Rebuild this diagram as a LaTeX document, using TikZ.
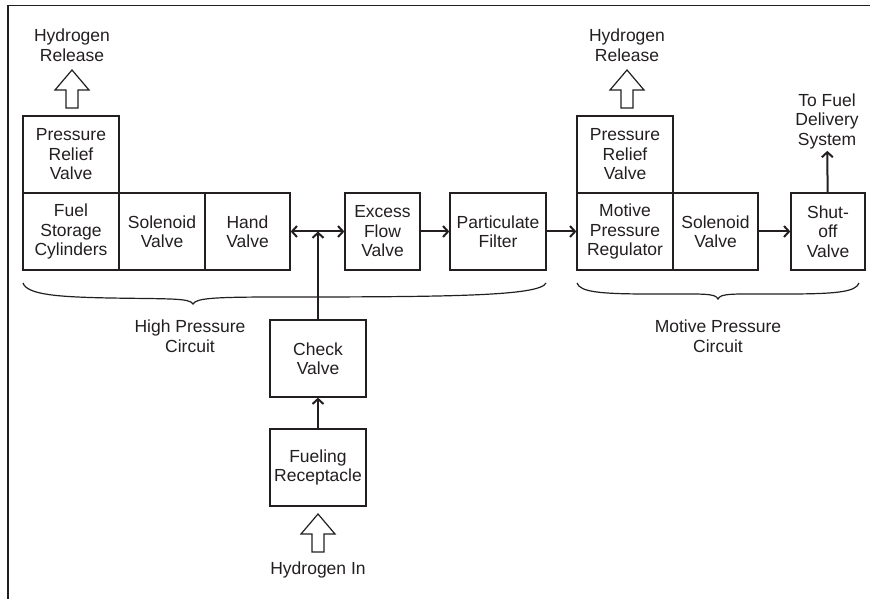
\documentclass[tikz,border=0pt]{standalone}
\usepackage{fontspec}
\setmainfont{Liberation Sans}
\usetikzlibrary{arrows.meta}
\definecolor{DiagramInk}{HTML}{231F20}

\begin{document}
\begin{tikzpicture}[x=1pt, y=-1pt,
    >={Straight Barb[length=5pt, width=11pt]},
    part/.style={draw=DiagramInk, line width=1.3pt, minimum height=77pt, inner sep=0pt, align=center, text=DiagramInk, font=\fontsize{17.5}{19.5}\selectfont},
    caption/.style={align=center, text=DiagramInk, inner sep=2pt, font=\fontsize{17.5}{19.5}\selectfont},
    flow/.style={draw=DiagramInk, line width=2pt},
    openarrow/.pic={\draw[DiagramInk, line width=1.2pt] (0,0) -- (17,20) -- (6,20) -- (6,38) -- (-6,38) -- (-6,20) -- (-17,20) -- cycle;}]

\useasboundingbox (0,0) rectangle (871,599);
% frame
\draw[DiagramInk, line width=1.5pt] (8,599) -- (8,5.5) -- (870,5.5);

% High pressure side
\node[part, minimum width=96pt] (reliefL) at (71,154.5) {Pressure\\Relief\\Valve};
\node[part, minimum width=96pt] (cylinders) at (71,231.5) {Fuel\\Storage\\Cylinders};
\node[part, minimum width=86pt] (solenoidL) at (162,231.5) {Solenoid\\Valve};
\node[part, minimum width=85pt] (hand) at (247.5,231.5) {Hand\\Valve};
\node[part, minimum width=75pt] (excess) at (382.5,231.5) {Excess\\Flow\\Valve};
\node[part, minimum width=96pt] (filter) at (498,231.5) {Particulate\\Filter};

% Motive pressure side
\node[part, minimum width=96pt] (reliefR) at (625,154.5) {Pressure\\Relief\\Valve};
\node[part, minimum width=96pt] (regulator) at (625,231.5) {Motive\\Pressure\\Regulator};
\node[part, minimum width=85pt] (solenoidR) at (715.5,231.5) {Solenoid\\Valve};
\node[part, minimum width=74pt] (shutoff) at (828,231.5) {Shut-\\off\\Valve};

% Fueling branch
\node[part, minimum width=96pt] (check) at (318,358.5) {Check\\Valve};
\node[part, minimum width=96pt] (receptacle) at (318,467.5) {Fueling\\Receptacle};

% Labels
\node[caption] (releaseL) at (72,45) {Hydrogen\\Release};
\node[caption] (releaseR) at (627,45) {Hydrogen\\Release};
\node[caption] (delivery) at (827,121) {To Fuel\\Delivery\\System};
\node[caption] (highcirc) at (190,336) {High Pressure\\Circuit};
\node[caption] (motivecirc) at (718,336) {Motive Pressure\\Circuit};
\node[caption] (inlet) at (318,570) {Hydrogen In};

% Vent and inlet arrows
\pic at (72,70) {openarrow};
\pic at (627,70) {openarrow};
\pic at (318,514) {openarrow};

% Flow arrows
\coordinate (tee) at (318,231.5);
\draw[flow, <->] (hand) -- (excess);
\draw[flow, ->] (check) -- (tee);
\draw[flow, ->] (receptacle) -- (check);
\draw[flow, ->] (excess) -- (filter);
\draw[flow, ->] (filter) -- (regulator);
\draw[flow, ->] (solenoidR) -- (shutoff);
\draw[flow, ->] (shutoff) -- (delivery);

% Braces
\draw[DiagramInk, line width=1.2pt] (23,283) .. controls (27,295) and (60,297) .. (110,298)
    .. controls (170,299) and (190,298) .. (193,304)
    .. controls (196,298) and (215,297) .. (280,297)
    .. controls (450,297) and (540,296) .. (546,283);
\draw[DiagramInk, line width=1.2pt] (577,283) .. controls (580,292) and (600,294) .. (650,294)
    .. controls (705,294) and (715,293) .. (718,299)
    .. controls (721,293) and (731,294) .. (786,294)
    .. controls (836,294) and (856,292) .. (859,283);
\end{tikzpicture}
\end{document}
